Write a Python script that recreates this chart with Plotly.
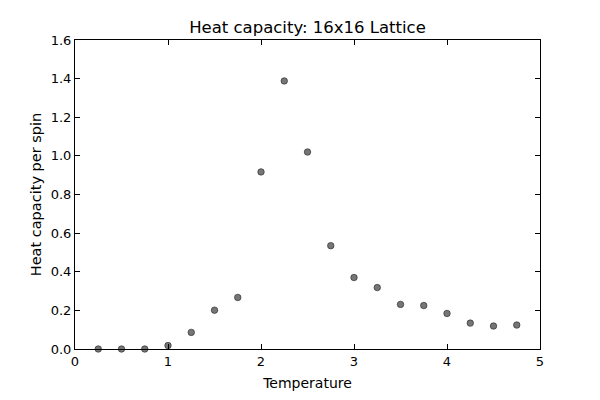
import plotly.graph_objects as go

temperature = [0.25, 0.5, 0.75, 1.0, 1.25, 1.5, 1.75, 2.0, 2.25, 2.5,
               2.75, 3.0, 3.25, 3.5, 3.75, 4.0, 4.25, 4.5, 4.75]
heat_capacity = [0.0, 0.0, 0.0, 0.018, 0.086, 0.201, 0.267, 0.917, 1.388, 1.02,
                 0.535, 0.37, 0.318, 0.231, 0.225, 0.184, 0.134, 0.119, 0.124]

x_ticks = [0, 1, 2, 3, 4, 5]
y_ticks = [0.0, 0.2, 0.4, 0.6, 0.8, 1.0, 1.2, 1.4, 1.6]

FONT = "DejaVu Sans"

fig = go.Figure()
fig.add_trace(go.Scatter(
    x=temperature, y=heat_capacity, mode="markers",
    marker=dict(size=6.5, color="#767676", line=dict(color="#222222", width=0.6)),
    cliponaxis=False, showlegend=False,
))

axis_common = dict(
    showgrid=False, zeroline=False, showline=True, linecolor="black", linewidth=1,
    mirror="ticks", ticks="inside", ticklen=5, tickwidth=1, tickcolor="black",
    tickfont=dict(family=FONT, size=13, color="black"), automargin=False,
)

fig.update_layout(
    width=600, height=400,
    margin=dict(l=75, r=60, t=40, b=51),
    paper_bgcolor="white", plot_bgcolor="white",
    title=dict(text="Heat capacity: 16x16 Lattice", x=0.5, xref="paper",
               y=1 - 27 / 400, yanchor="middle", automargin=False,
               font=dict(family=FONT, size=16.5, color="black")),
    xaxis=dict(range=[0, 5], tickvals=x_ticks, ticktext=[str(t) for t in x_ticks],
               title=dict(text="Temperature", font=dict(family=FONT, size=14, color="black"), standoff=10),
               **axis_common),
    yaxis=dict(range=[0, 1.6], tickvals=y_ticks, ticktext=[f"{t:.1f}" for t in y_ticks],
               title=dict(text="Heat capacity per spin", font=dict(family=FONT, size=14.5, color="black"), standoff=5),
               **axis_common),
)

fig.write_html("out.html")
